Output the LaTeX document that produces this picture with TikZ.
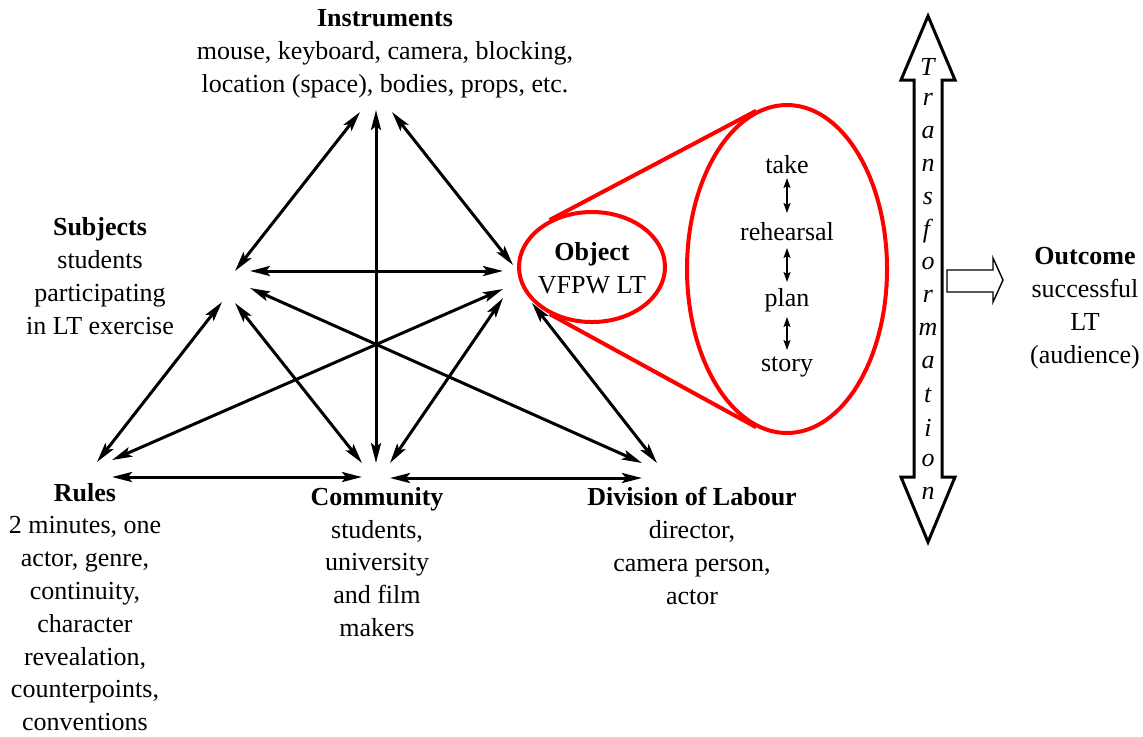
\documentclass[tikz,border=0pt]{standalone}
\usepackage{fontspec}
\setmainfont{Liberation Serif}
\usetikzlibrary{arrows.meta,shapes.geometric}

\begin{document}
\begin{tikzpicture}[x=0.5pt,y=-0.5pt]
  \tikzstyle{act_text}  = [align=center, inner sep=0pt, font=\fontsize{13}{16.4}\selectfont]
  \tikzstyle{act_link}  = [{Stealth[length=10pt,width=5pt,inset=2pt]}-{Stealth[length=10pt,width=5pt,inset=2pt]}, line width=1.5pt]
  \tikzstyle{obj_link}  = [{Stealth[length=5pt,width=3.5pt,inset=1pt]}-{Stealth[length=5pt,width=3.5pt,inset=1pt]}, line width=0.8pt]
  \tikzstyle{obj_ring}  = [shape = ellipse, draw = red, line width=2pt, inner sep=0pt]

  \useasboundingbox (0,0) rectangle (1143,736);

  % activity system texts
  \node[act_text] at (385, 54)  (inst) {\textbf{Instruments}\\mouse, keyboard, camera, blocking,\\location (space), bodies, props, etc.};
  \node[act_text] at (100,276)  (subj) {\textbf{Subjects}\\students\\participating\\in LT exercise};
  \node[act_text] at ( 85,607)  (rule) {\textbf{Rules}\\2 minutes, one\\actor, genre,\\continuity,\\character\\revealation,\\counterpoints,\\conventions};
  \node[act_text] at (377,562)  (comm) {\textbf{Community}\\students,\\university\\and film\\makers};
  \node[act_text] at (692,546)  (dol)  {\textbf{Division of Labour}\\director,\\camera person,\\actor};
  \node[act_text] at (1085,308) (outc) {\textbf{Outcome}\\successful\\LT\\(audience)};

  % object and its zoom
  \node[obj_ring, minimum width=73pt, minimum height=55pt] at (592,267) (obj) {};
  \node[act_text] at (592,268) (obj_t) {\textbf{Object}\\VFPW LT};
  \node[obj_ring, minimum width=100pt, minimum height=164pt] at (787,269) (zoom) {};
  \draw[red, line width=2pt] (obj.132) -- (zoom.101);
  \draw[red, line width=2pt] (obj.228) -- (zoom.259);

  \node[act_text] at (787,165) (take) {take};
  \node[act_text] at (787,232) (reh)  {rehearsal};
  \node[act_text] at (787,300) (plan) {plan};
  \node[act_text] at (787,367) (story){story};
  \coordinate (t_s) at (787,178);  \coordinate (r_n) at (787,213);
  \coordinate (r_s) at (787,248);  \coordinate (p_n) at (787,282);
  \coordinate (p_s) at (787,317);  \coordinate (s_n) at (787,350);
  \draw[obj_link] (t_s) -- (r_n);
  \draw[obj_link] (r_s) -- (p_n);
  \draw[obj_link] (p_s) -- (s_n);

  % arrow ends
  \coordinate (i_s) at (360,112);  \coordinate (s_i) at (235,271);
  \coordinate (i_c) at (376,110);  \coordinate (c_i) at (376,463);
  \coordinate (i_o) at (392,112);  \coordinate (o_i) at (513,265);
  \coordinate (s_o) at (250,271);  \coordinate (o_s) at (503,271);
  \coordinate (s_d) at (250,288);  \coordinate (d_s) at (642,463);
  \coordinate (s_r) at (222,302);  \coordinate (r_s) at ( 97,462);
  \coordinate (s_c) at (235,303);  \coordinate (c_s) at (362,463);
  \coordinate (r_o) at (112,460);  \coordinate (o_r) at (503,289);
  \coordinate (c_o) at (390,463);  \coordinate (o_c) at (503,298);
  \coordinate (d_o) at (657,463);  \coordinate (o_d) at (532,303);
  \coordinate (r_c) at (112,477);  \coordinate (c_r) at (362,477);
  \coordinate (c_d) at (390,478);  \coordinate (d_c) at (642,478);

  \draw[act_link] (i_s) -- (s_i);
  \draw[act_link] (i_c) -- (c_i);
  \draw[act_link] (i_o) -- (o_i);
  \draw[act_link] (s_o) -- (o_s);
  \draw[act_link] (s_d) -- (d_s);
  \draw[act_link] (s_r) -- (r_s);
  \draw[act_link] (s_c) -- (c_s);
  \draw[act_link] (r_o) -- (o_r);
  \draw[act_link] (c_o) -- (o_c);
  \draw[act_link] (d_o) -- (o_d);
  \draw[act_link] (r_c) -- (c_r);
  \draw[act_link] (c_d) -- (d_c);

  % transformation arrow
  \draw[line width=1.5pt]
    (928,16) -- (955,80) -- (942,80) -- (942,477) -- (955,477) -- (928,542)
    -- (901,477) -- (914,477) -- (914,80) -- (901,80) -- cycle;
  \foreach \ch [count=\i from 0] in {T,r,a,n,s,f,o,r,m,a,t,i,o,n}
    \node[act_text] (tr\i) at (928,67+32.8*\i) {\textit{\ch}};

  % to outcome
  \draw[line width=0.7pt]
    (947,270) -- (993,270) -- (993,258) -- (1003,280) -- (993,302) -- (993,292) -- (947,292) -- cycle;

\end{tikzpicture}
\end{document}
